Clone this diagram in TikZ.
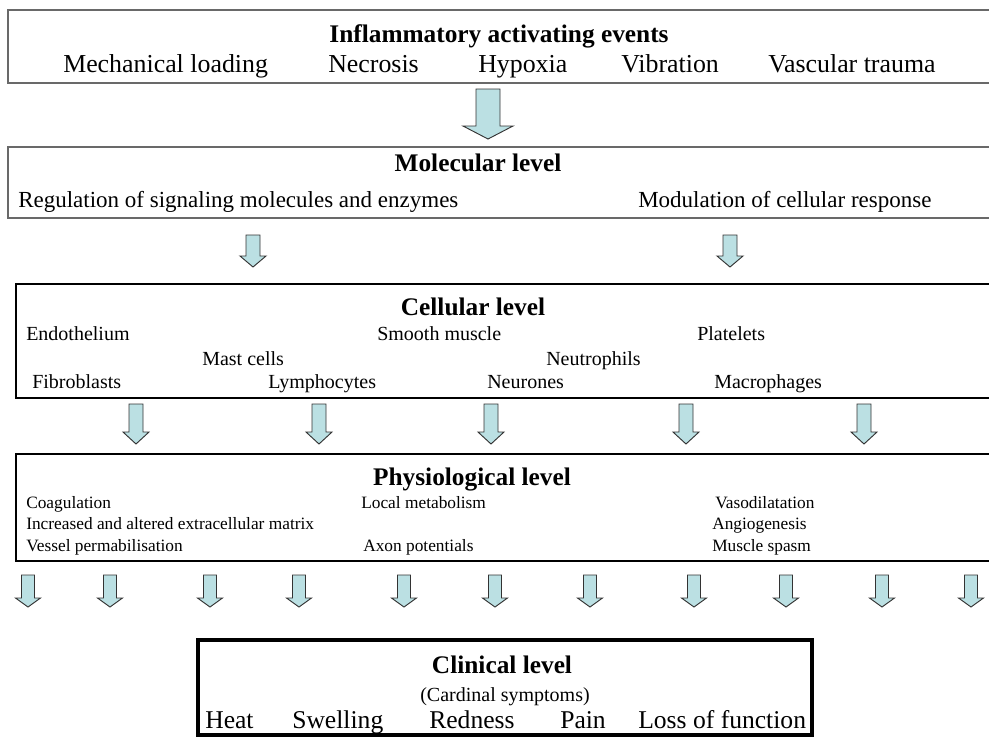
\documentclass[tikz,border=0pt]{standalone}
\usepackage{fontspec}
\setmainfont{Liberation Serif}
\usepackage{tikz}
\usetikzlibrary{positioning}

\definecolor{arrowfill}{RGB}{187,224,227}
\definecolor{framegray}{RGB}{105,105,105}

\newcommand\fsz[1]{\fontsize{#1}{#1}\selectfont}
% block arrow: centre x, top, head start, tip, shaft half width, head half width
\newcommand\blockarrow[6]{%
  \draw[blockarr] (#1-#5,#2) -- (#1+#5,#2) -- (#1+#5,#3) -- (#1+#6,#3)
    -- (#1,#4) -- (#1-#6,#3) -- (#1-#5,#3) -- cycle;}

\begin{document}
\begin{tikzpicture}[
  x=0.75pt, y=-0.75pt,
  title/.style={anchor=base, inner sep=0pt, font=\fsz{19}\bfseries},
  evt/.style={anchor=base west, inner sep=0pt, font=\fsz{19.4}},
  mol/.style={anchor=base west, inner sep=0pt, font=\fsz{17.25}},
  cel/.style={anchor=base west, inner sep=0pt, font=\fsz{15}},
  phy/.style={anchor=base west, inner sep=0pt, font=\fsz{13}},
  sym/.style={anchor=base west, inner sep=0pt, font=\fsz{19.2}},
  graybox/.style={draw=framegray, line width=1.5pt},
  blackbox/.style={draw=black, line width=1.1pt},
  clinbox/.style={draw=black, line width=2.3pt},
  blockarr/.style={draw=black!80, fill=arrowfill, line width=0.7pt, line join=miter}
]
\useasboundingbox (0,0) rectangle (989,736);
\clip (0,0) rectangle (989,736);

% level frames
\draw[graybox]  (8,10)   rectangle (995,83);
\draw[graybox]  (8,147)  rectangle (995,218);
\draw[blackbox] (16,284) rectangle (995,398);
\draw[blackbox] (16,454) rectangle (995,561);
\draw[clinbox]  (198,640) rectangle (812,735);

% inflammatory events
\node[title] (evtitle) at (499,42) {Inflammatory activating events};
\node[evt] (mech) at (63,72)  {Mechanical loading};
\node[evt] (necr) at (328,72) {Necrosis};
\node[evt] (hypo) at (478,72) {Hypoxia};
\node[evt] (vibr) at (621,72) {Vibration};
\node[evt] (vasc) at (768,72) {Vascular trauma};

% molecular level
\node[title] (moltitle) at (478,171) {Molecular level};
\node[mol] (regul) at (18,207)  {Regulation of signaling molecules and enzymes};
\node[mol] (modul) at (638,207) {Modulation of cellular response};

% cellular level
\node[title] (celtitle) at (473,315) {Cellular level};
\node[cel] (endo)  at (26,340)  {Endothelium};
\node[cel] (smooth) at (377,340) {Smooth muscle};
\node[cel] (plat)  at (697,340) {Platelets};
\node[cel] (mast)  at (202,365) {Mast cells};
\node[cel] (neut)  at (546,365) {Neutrophils};
\node[cel] (fibro) at (32,388)  {Fibroblasts};
\node[cel] (lymph) at (268,388) {Lymphocytes};
\node[cel] (neur)  at (487,388) {Neurones};
\node[cel] (macro) at (714,388) {Macrophages};

% physiological level
\node[title] (phytitle) at (472,485) {Physiological level};
\node[phy] (coag)  at (26,508)  {Coagulation};
\node[phy] (metab) at (361,508) {Local metabolism};
\node[phy] (vasod) at (715,508) {Vasodilatation};
\node[phy] (matrix) at (26,529) {Increased and altered extracellular matrix};
\node[phy] (angio) at (712,529) {Angiogenesis};
\node[phy] (vessel) at (26,551) {Vessel permabilisation};
\node[phy] (axon)  at (363,551) {Axon potentials};
\node[phy] (spasm) at (712,551) {Muscle spasm};

% clinical level
\node[title] (clintitle) at (502,673) {Clinical level};
\node[anchor=base, inner sep=0pt, font=\fsz{15}] (cardinal) at (505,701) {(Cardinal symptoms)};
\node[sym] (heat)  at (205,728) {Heat};
\node[sym] (swell) at (292,728) {Swelling};
\node[sym] (red)   at (429,728) {Redness};
\node[sym] (pain)  at (560,728) {Pain};
\node[sym] (loss)  at (638,728) {Loss of function};

% arrows between levels
\blockarrow{488}{89}{126}{139}{12}{25}
\foreach \c in {253,730} {\blockarrow{\c}{235}{256}{267}{7}{13}}
\foreach \c in {136,319,491,686,864} {\blockarrow{\c}{404}{432}{444}{7}{13}}
\foreach \c in {28,110,210,299,404,495,590,694,786,882,971} {\blockarrow{\c}{575}{598}{607}{6.5}{12.5}}
\end{tikzpicture}
\end{document}
